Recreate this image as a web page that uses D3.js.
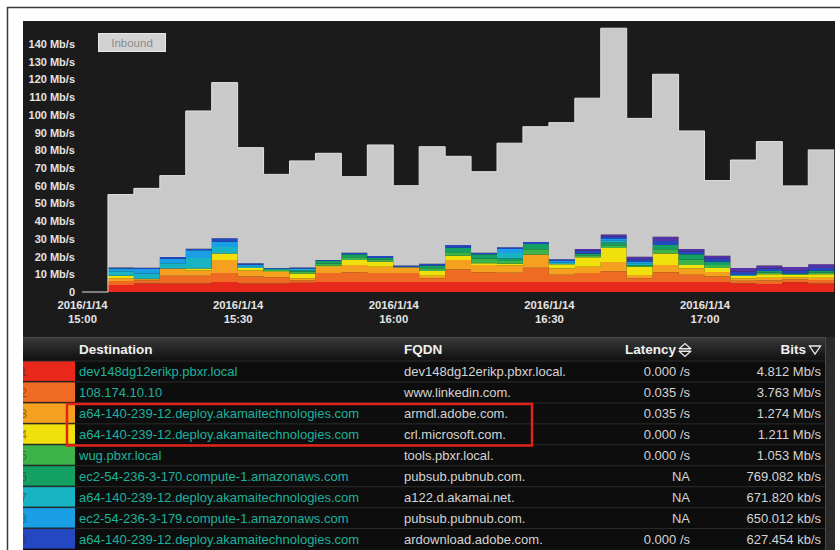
<!DOCTYPE html>
<html><head><meta charset="utf-8">
<script src="https://cdnjs.cloudflare.com/ajax/libs/d3/7.8.5/d3.min.js"></script>
<style>html,body{margin:0;padding:0;background:#fff;}svg{display:block;}</style>
</head><body>
<script>
// ---------- DATA ----------
const timeLabels = ["15:00","15:05","15:10","15:15","15:20","15:25","15:30","15:35","15:40","15:45","15:50","15:55",
  "16:00","16:05","16:10","16:15","16:20","16:25","16:30","16:35","16:40","16:45","16:50","16:55",
  "17:00","17:05","17:10","17:15","17:20"];
const seriesKeys = ["s1","s2","s3","s4","s5","s6","s7","s8","s9","s10"];
const s1  = [0,4.0,4.8,4.8,4.8,5.7,4.8,4.8,5.2,5.7,5.7,5.7,5.7,5.7,5.7,5.7,5.7,5.7,5.7,5.7,5.7,5.7,5.7,5.7,5.7,4.8,4.5,5.5,4.8];
const s2  = [0,2.2,1.9,4.4,4.4,5.0,4.0,3.5,1.5,5.0,5.5,5.0,5.0,2.0,7.0,5.5,5.2,8.0,4.0,5.0,6.0,2.0,5.5,4.0,3.0,1.5,2.0,1.5,2.0];
const s3  = [0,1.5,0.5,4.0,3.0,7.4,3.4,3.0,1.0,3.6,4.0,3.6,3.0,1.5,5.4,4.0,4.0,7.4,3.5,3.6,5.2,1.9,4.0,3.5,2.6,1.3,1.6,1.2,1.3];
const s4  = [0,1.5,0.3,0.0,1.0,3.7,1.3,0.4,2.7,0.5,2.9,2.8,0.3,2.7,2.4,1.1,1.1,0.0,2.4,5.3,8.0,4.7,6.6,2.0,2.2,1.6,1.9,1.5,1.9];
const s5  = [0,0,0,0,0,0,0,0.8,1.0,1.3,1.5,1.2,0,1.5,2.0,2.5,1.5,3.0,0,1.2,1.5,0.5,2.3,3.0,1.8,0,1.0,0.4,1.0];
const s6  = [0,0,0,0,0,0,0,0,0.8,1.5,1.7,1.1,0,1.5,2.5,2.5,1.5,3.0,0,1.0,1.6,0.5,2.4,3.1,1.8,0,0.9,0.4,1.0];
const s7  = [0,2.5,3.0,3.0,6.0,3.6,1.0,0.7,0.8,0,0,0,0,0,0,0,3.0,0,1.0,0,1.0,1.0,0,0,0,0.4,0,0,0];
const s8  = [0,1.5,2.5,2.6,4.3,3.0,0.9,0,0,0,0,0,0,0,0,0,2.3,0,0.9,0,0.9,0.8,0,0,0,0.3,0,0,0];
const s9  = [0,0.7,0.7,1.0,0.9,1.9,0.9,0.3,0.9,0.5,0.9,0.9,0.9,1.1,1.5,0.9,0.9,1.1,1.0,1.5,1.5,1.4,2.3,1.5,1.7,1.6,1.3,1.5,1.6];
const s10 = [0,0,0,0,0,0,0,0,0,0,0,0,0,0,0,0,0,0,0,1.0,1.0,1.4,2.4,1.5,1.7,2.0,1.7,2.1,2.0];
const totalMbps = [0,55,58.5,65.7,102.2,118.2,81.5,66.4,74,78.3,65.1,83,60,82,76.6,67.9,84,93.3,95.6,109.4,148.9,98,122.9,90.9,62.9,74.5,84.9,59.9,80.2];
const seriesColors = ["#e8281a","#ef6a22","#f5a01f","#f0e00c","#3db449","#14a063","#18b4c4","#1a9fe6","#2348c2","#5432a8"];
const otherColor = "#c9c9c9";
const yTicks = [0,10,20,30,40,50,60,70,80,90,100,110,120,130,140];
const xTickLabels = ["15:00","15:30","16:00","16:30","17:00"];
const dateLabel = "2016/1/14";
const legendLabel = "Inbound";

const rankNums = ["1","2","3","4","5","6","7","8","9"];
const destinations = ["dev148dg12erikp.pbxr.local","108.174.10.10","a64-140-239-12.deploy.akamaitechnologies.com",
  "a64-140-239-12.deploy.akamaitechnologies.com","wug.pbxr.local","ec2-54-236-3-170.compute-1.amazonaws.com",
  "a64-140-239-12.deploy.akamaitechnologies.com","ec2-54-236-3-179.compute-1.amazonaws.com","a64-140-239-12.deploy.akamaitechnologies.com"];
const fqdns = ["dev148dg12erikp.pbxr.local.","www.linkedin.com.","armdl.adobe.com.","crl.microsoft.com.","tools.pbxr.local.",
  "pubsub.pubnub.com.","a122.d.akamai.net.","pubsub.pubnub.com.","ardownload.adobe.com."];
const latencies = ["0.000 /s","0.035 /s","0.035 /s","0.000 /s","0.000 /s","NA","NA","NA","0.000 /s"];
const bits = ["4.812 Mb/s","3.763 Mb/s","1.274 Mb/s","1.211 Mb/s","1.053 Mb/s","769.082 kb/s","671.820 kb/s","650.012 kb/s","627.454 kb/s"];
const headers = ["Destination","FQDN","Latency","Bits"];

// ---------- SETUP ----------
const W = 840, H = 550;
const FONT = "'Liberation Sans', Arial, sans-serif";
const parseT = d3.timeParse("%H:%M");
const svg = d3.select("body").append("svg").attr("width", W).attr("height", H)
  .style("font-family", FONT);
svg.append("rect").attr("width", W).attr("height", H).attr("fill", "#fff");
// outer frame
svg.append("rect").attr("x", 7.5).attr("y", 7.5).attr("width", 900).attr("height", 900)
  .attr("fill", "none").attr("stroke", "#3a3a3a").attr("stroke-width", 1.5);
// dashboard
svg.append("rect").attr("x", 23).attr("y", 21).attr("width", 812).attr("height", 529).attr("fill", "#121212");
svg.append("rect").attr("x", 23).attr("y", 21).attr("width", 812).attr("height", 316).attr("fill", "#1b1b1b");

const defs = svg.append("defs");
defs.append("clipPath").attr("id", "plotClip").append("rect")
  .attr("x", 23).attr("y", 21).attr("width", 812).attr("height", 300);
defs.append("clipPath").attr("id", "dashClip").append("rect")
  .attr("x", 23).attr("y", 21).attr("width", 812).attr("height", 529);

// ---------- SCALES ----------
const x = d3.scaleTime().domain([parseT("15:00"), parseT("17:00")]).range([82, 704.5]);
const y = d3.scaleLinear().domain([0, 140]).range([292, 44]);

// ---------- DATA ROWS ----------
const rows = timeLabels.map((t, i) => {
  const r = { t: parseT(t) };
  const all = [s1,s2,s3,s4,s5,s6,s7,s8,s9,s10];
  let sum = 0;
  seriesKeys.forEach((k, j) => { r[k] = all[j][i]; sum += all[j][i]; });
  r.other = Math.max(0, totalMbps[i] - sum);
  return r;
});
// close the last step
const last = Object.assign({}, rows[rows.length - 1]);
last.t = d3.timeMinute.offset(rows[rows.length - 1].t, 5);
rows.push(last);

const keys = seriesKeys.concat(["other"]);
const colors = seriesColors.concat([otherColor]);
const stack = d3.stack().keys(keys)(rows);

const area = d3.area().curve(d3.curveStepAfter)
  .x(d => x(d.data.t)).y0(d => y(d[0])).y1(d => y(d[1]));

const plot = svg.append("g").attr("clip-path", "url(#plotClip)");
plot.selectAll("path.layer").data(stack).join("path").attr("class", "layer")
  .attr("d", area).attr("fill", (d, i) => colors[i]);
// top outline of the total
const line = d3.line().curve(d3.curveStepAfter).x(d => x(d.data.t)).y(d => y(d[1]));
plot.append("path").attr("d", line(stack[stack.length - 1]))
  .attr("fill", "none").attr("stroke", "#e2e2e2").attr("stroke-width", 1);

// ---------- AXES ----------
const yAxis = d3.axisLeft(y).tickValues(yTicks).tickSize(0).tickPadding(7)
  .tickFormat(d => d === 0 ? "0" : d + " Mb/s");
const gy = svg.append("g").attr("transform", "translate(82,0)").call(yAxis);
gy.select(".domain").remove();
gy.selectAll("text").attr("fill", "#e4e4e4").attr("font-size", 11).attr("font-weight", "bold")
  .attr("font-family", FONT);

const xAxis = d3.axisBottom(x).tickValues(xTickLabels.map(parseT)).tickSize(0).tickPadding(0).tickFormat("");
const gx = svg.append("g").attr("transform", "translate(0,292)").call(xAxis);
gx.select(".domain").remove();
gx.selectAll(".tick text").each(function(d, i) {
  const t = d3.select(this).attr("y", 0).attr("dy", null)
    .attr("fill", "#e4e4e4").attr("font-size", 11.3).attr("font-weight", "bold")
    .attr("font-family", FONT);
  t.append("tspan").attr("x", 0).attr("y", 16.5).text(dateLabel);
  t.append("tspan").attr("x", 0).attr("y", 31).text(xTickLabels[i]);
});

// legend button
const lg = svg.append("g");
lg.append("rect").attr("x", 98.5).attr("y", 33.5).attr("width", 67).attr("height", 18)
  .attr("fill", "#d2d2d2").attr("stroke", "#e8e8e8").attr("stroke-width", 1);
lg.append("text").attr("x", 132).attr("y", 46.5).attr("text-anchor", "middle")
  .attr("font-size", 11.5).attr("fill", "#8c8c8c").text(legendLabel);

// ---------- TABLE ----------
const hdrGrad = defs.append("linearGradient").attr("id", "hdrGrad").attr("x1", 0).attr("y1", 0).attr("x2", 0).attr("y2", 1);
hdrGrad.append("stop").attr("offset", "0%").attr("stop-color", "#3a3a3a");
hdrGrad.append("stop").attr("offset", "100%").attr("stop-color", "#101010");
svg.append("rect").attr("x", 23).attr("y", 337).attr("width", 802).attr("height", 23.5).attr("fill", "url(#hdrGrad)");
svg.append("line").attr("x1", 23).attr("x2", 825).attr("y1", 337.5).attr("y2", 337.5).attr("stroke", "#4a4a4a");
// scroll track
svg.append("rect").attr("x", 825).attr("y", 337).attr("width", 10).attr("height", 213).attr("fill", "#2a2a2a");
svg.append("line").attr("x1", 825.5).attr("x2", 825.5).attr("y1", 337).attr("y2", 550).attr("stroke", "#474747");

const hdrY = 354;
const hStyle = s => s.attr("font-size", 13.5).attr("font-weight", "bold").attr("fill", "#f0f0f0");
hStyle(svg.append("text").attr("x", 79).attr("y", hdrY).text(headers[0]));
hStyle(svg.append("text").attr("x", 404).attr("y", hdrY).text(headers[1]));
hStyle(svg.append("text").attr("x", 676).attr("y", hdrY).attr("text-anchor", "end").text(headers[2]));
hStyle(svg.append("text").attr("x", 806).attr("y", hdrY).attr("text-anchor", "end").text(headers[3]));
// sort icons
svg.append("path").attr("d", "M679.5,348.5 L685,343.5 L690.5,348.5 Z M679.5,351.5 L685,356.5 L690.5,351.5 Z M679,350 L691,350")
  .attr("fill", "none").attr("stroke", "#eaeaea").attr("stroke-width", 1.2);
svg.append("path").attr("d", "M809.5,346 L820.5,346 L815,354 Z")
  .attr("fill", "none").attr("stroke", "#eaeaea").attr("stroke-width", 1.3);

const rowTop0 = 360.5, rowH = 20.95;
const tg = svg.append("g").attr("clip-path", "url(#dashClip)");
destinations.forEach((d, i) => {
  const top = rowTop0 + i * rowH;
  tg.append("rect").attr("x", 23).attr("y", top).attr("width", 802).attr("height", rowH).attr("fill", "#0d0d0d");
  tg.append("rect").attr("x", 10).attr("y", top + 0.5).attr("width", 65).attr("height", rowH - 1)
    .attr("fill", seriesColors[i]);
  tg.append("line").attr("x1", 23).attr("x2", 825).attr("y1", top + 0.5).attr("y2", top + 0.5).attr("stroke", "#2c2c2c");
  tg.append("text").attr("x", 27).attr("y", top + 15.5).attr("text-anchor", "end").attr("font-size", 12)
    .attr("fill", "#3a2a10").attr("fill-opacity", 0.55).text(rankNums[i]);
  tg.append("text").attr("x", 79).attr("y", top + 15.5).attr("font-size", 13).attr("fill", "#1db29c").text(d);
  tg.append("text").attr("x", 404).attr("y", top + 15.5).attr("font-size", 13).attr("fill", "#d4d4d4").text(fqdns[i]);
  tg.append("text").attr("x", 690).attr("y", top + 15.5).attr("text-anchor", "end").attr("font-size", 13).attr("fill", "#d4d4d4").text(latencies[i]);
  tg.append("text").attr("x", 821).attr("y", top + 15.5).attr("text-anchor", "end").attr("font-size", 13).attr("fill", "#d4d4d4").text(bits[i]);
});

// highlight box
svg.append("rect").attr("x", 67).attr("y", 404).attr("width", 465).attr("height", 41.5)
  .attr("fill", "none").attr("stroke", "#e2231a").attr("stroke-width", 2.5);
</script>
</body></html>
